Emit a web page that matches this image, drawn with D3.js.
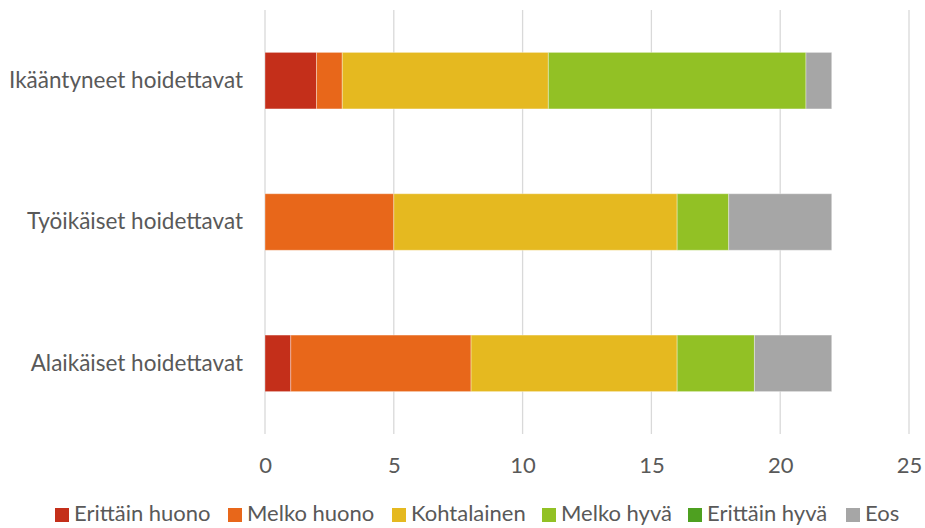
<!DOCTYPE html>
<html>
<head>
<meta charset="utf-8">
<script src="https://cdn.jsdelivr.net/npm/d3@7"></script>
<style>
  body { margin: 0; background: #fff; }
  text { font-family: Lato, "Open Sans", sans-serif; fill: #595959; }
</style>
</head>
<body>
<svg id="chart" width="925" height="528"></svg>
<script>
// data
var categories = ['Ikääntyneet hoidettavat', 'Työikäiset hoidettavat', 'Alaikäiset hoidettavat'];
var seriesNames = ['Erittäin huono', 'Melko huono', 'Kohtalainen', 'Melko hyvä', 'Erittäin hyvä', 'Eos'];
var seriesColors = ['#C42F1A', '#E8671A', '#E5B920', '#92C125', '#4EA020', '#A6A6A6'];
var erittainHuono = [2, 0, 1];
var melkoHuono = [1, 5, 7];
var kohtalainen = [8, 11, 8];
var melkoHyva = [10, 2, 3];
var erittainHyva = [0, 0, 0];
var eos = [1, 4, 3];
var xTicks = [0, 5, 10, 15, 20, 25];

var values = [erittainHuono, melkoHuono, kohtalainen, melkoHyva, erittainHyva, eos];

var rows = categories.map(function (c, i) {
  var r = { cat: c };
  seriesNames.forEach(function (s, j) { r[s] = values[j][i]; });
  return r;
});

var svg = d3.select('#chart');

var x = d3.scaleLinear().domain([0, 25]).range([265, 909]);
var y = d3.scaleBand().domain(categories).range([10, 434]).paddingInner(0.6).paddingOuter(0.3);

// gridlines
svg.append('g').selectAll('line')
  .data(xTicks)
  .enter().append('line')
  .attr('x1', function (d) { return x(d); })
  .attr('x2', function (d) { return x(d); })
  .attr('y1', 10)
  .attr('y2', 434)
  .attr('stroke', '#D9D9D9')
  .attr('stroke-width', 1.3);

var stack = d3.stack().keys(seriesNames)(rows);

var layer = svg.selectAll('.layer')
  .data(stack)
  .enter().append('g')
  .attr('class', 'layer')
  .attr('fill', function (d, i) { return seriesColors[i]; });

layer.selectAll('rect')
  .data(function (d) { return d.filter(function (p) { return p[1] > p[0]; }); })
  .enter().append('rect')
  .attr('x', function (d) { return x(d[0]); })
  .attr('width', function (d) { return x(d[1]) - x(d[0]); })
  .attr('y', function (d) { return y(d.data.cat); })
  .attr('height', y.bandwidth())
  .attr('stroke', 'rgba(255,255,255,0.35)')
  .attr('stroke-width', 1);

// x axis labels
var xAxis = svg.append('g')
  .attr('transform', 'translate(0,434)')
  .call(d3.axisBottom(x).tickValues(xTicks).tickSize(0).tickPadding(23));
xAxis.select('.domain').remove();
xAxis.selectAll('text')
  .style('font-size', '22px')
  .style('font-family', 'Lato, "Open Sans", sans-serif')
  .attr('fill', '#595959');

// category labels
var yAxis = svg.append('g')
  .attr('transform', 'translate(265,0)')
  .call(d3.axisLeft(y).tickSize(0).tickPadding(22));
yAxis.select('.domain').remove();
yAxis.selectAll('text')
  .style('font-size', '22.5px')
  .style('font-family', 'Lato, "Open Sans", sans-serif')
  .attr('fill', '#595959');

// legend
var legendX = [55, 228, 392, 542, 688, 846];
var legend = svg.selectAll('.legend')
  .data(seriesNames)
  .enter().append('g')
  .attr('class', 'legend')
  .attr('transform', function (d, i) { return 'translate(' + legendX[i] + ',508)'; });

legend.append('rect')
  .attr('width', 14)
  .attr('height', 14)
  .attr('fill', function (d, i) { return seriesColors[i]; });

legend.append('text')
  .attr('x', 19)
  .attr('y', 13)
  .style('font-size', '22px')
  .text(function (d) { return d; });
</script>
</body>
</html>
